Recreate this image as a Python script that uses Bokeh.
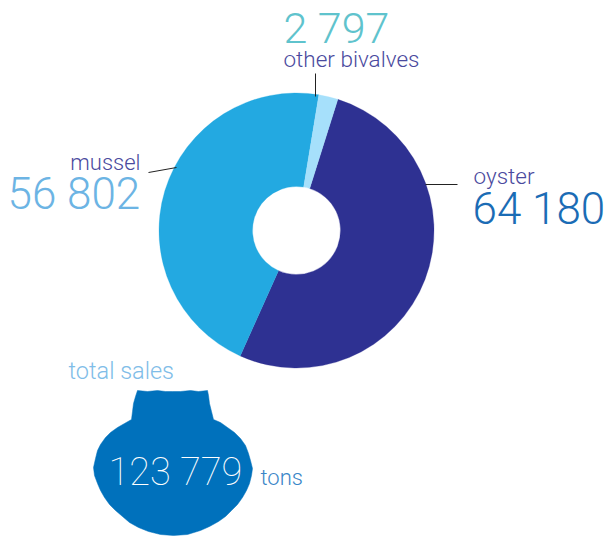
from math import pi
from bokeh.plotting import figure
from bokeh.models import Range1d, ColumnDataSource
from bokeh.core.properties import value
from bokeh.embed import file_html
from bokeh.resources import INLINE

categories = ["oyster", "mussel", "other bivalves"]
tons = [64180, 56802, 2797]
tons_labels = ["64 180", "56 802", "2 797"]
total_label = "123 779"
colors = ["#2e3192", "#23a9e1", "#a6e0fb"]

W, H = 608, 536
def X(px): return px
def Y(py): return H - py

p = figure(width=W, height=H, output_backend="svg", toolbar_location=None,
           x_range=Range1d(0, W), y_range=Range1d(0, H), min_border=0)
p.axis.visible = False
p.grid.visible = False
p.outline_line_color = None
p.background_fill_color = "white"

# donut, clockwise from 17.5 deg past 12 o'clock
total = sum(tons)
cum = 17.5
starts, ends = [], []
for v in tons:
    a0 = 90 - cum
    cum += v / total * 360
    a1 = 90 - cum
    starts.append(a1 * pi / 180)
    ends.append(a0 * pi / 180)
src = ColumnDataSource(dict(s=starts, e=ends, c=colors, name=categories, v=tons))
p.annular_wedge(x=X(296), y=Y(230), inner_radius=44, outer_radius=137.5,
                start_angle="s", end_angle="e", fill_color="c", line_color="c",
                line_width=0.3, inner_radius_units="data", outer_radius_units="data", source=src)

# leaders
p.segment(x0=[X(425), X(315), X(148)], y0=[Y(184), Y(73), Y(172)],
          x1=[X(457), X(315), X(176)], y1=[Y(184), Y(96), Y(167)],
          line_color="#222222", line_width=1)

# shell
shell_x = [137,147,157,165,172,180,190,198,207,208,209,211,213,220,227,234,240,245,248,250,252,251,249,246,242,237,231,225,218,209,200,187,173,160,148,138,129,122,115,109,104,100,97,94,93,95,97,100,105,110,117,124,131,132,133,135]
shell_y = [390,391,390,391,391,391,390,391,390,395,403,411,419,422,427,432,438,445,453,460,468,475,483,490,497,504,510,516,521,526,530,534,535,534,531,527,522,516,510,504,497,490,483,475,467,458,450,444,437,432,427,423,419,411,403,396]
p.patch(x=[X(v) for v in shell_x], y=[Y(v) for v in shell_y], fill_color="#0071bc", line_color="#0071bc", line_width=0.5)

F = "Roboto Light"
def T(px, py, t, size, color, align="left", font=F):
    p.text(x=[X(px)], y=[Y(py - 0.36 * size)], text=[t], text_font=value(font), text_font_size=f"{size}px",
           text_color=color, text_align=align, text_baseline="alphabetic")

T(473, 184, categories[0], 22.5, "#4a4a9e")
T(472, 224, tons_labels[0], 44, "#1b6cb5")
T(140, 170, categories[1], 22, "#4a4a9e", "right")
T(7, 209, tons_labels[1], 44, "#6cb4e4")
T(283, 67, categories[2], 22.5, "#4a4a9e")
T(283, 43, tons_labels[2], 43, "#5fc3cd")
T(68, 379, "total  sales", 23.5, "#80bde8")
T(108, 485, total_label, 38, "#ffffff", font="Roboto Thin")
T(260, 485, "tons", 22, "#3a86c8")

open("out.html", "w").write(file_html(p, INLINE))
